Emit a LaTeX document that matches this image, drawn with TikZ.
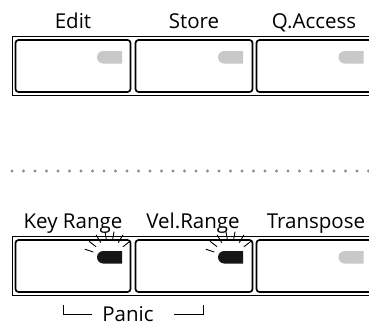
\documentclass[tikz,border=0pt]{standalone}
\usepackage{fontspec}
\setmainfont{Open Sans}
\usetikzlibrary{shapes.misc, calc}
\definecolor{ledoff}{HTML}{C8C8C8}
\definecolor{ledon}{HTML}{161616}
\definecolor{dotgray}{HTML}{8C8C8C}

\begin{document}
\begin{tikzpicture}[
    x=1pt, y=-1pt,
    frame/.style={draw=black, line width=0.8pt},
    key/.style={draw=black, line width=1.7pt, rounded corners=3pt, minimum width=115pt, minimum height=52pt, inner sep=0pt},
    lbl/.style={font=\fontsize{20.5}{20.5}\selectfont, anchor=base, inner sep=0pt},
    led/.style={rounded rectangle, rounded rectangle right arc=none, minimum width=25pt, minimum height=12.5pt, inner sep=0pt, fill=#1},
    ray/.style={line width=0.9pt},
    bracket/.style={line width=0.9pt},
    dots/.style={draw=dotgray, line width=3.2pt, line cap=round, dash pattern=on 0pt off 11.5pt}
]
\useasboundingbox (0,0) rectangle (369,325);
\clip (0,0) rectangle (369,325);

% upper row
\node[lbl] (editlbl) at (73,28) {Edit};
\node[lbl] (storelbl) at (194,28) {Store};
\node[lbl] (qacclbl) at (314,28) {Q.Access};
\draw[frame] (12,36.5) rectangle (390,95.5);
\node[key] (edit) at (73,66) {};
\node[key, minimum width=117pt] (store) at (194,66) {};
\node[key, minimum width=130pt] (qacc) at (321.5,66) {};
\node[led=ledoff] (editled) at (109.5,57.25) {};
\node[led=ledoff] (storeled) at (230.5,57.25) {};
\node[led=ledoff] (qaccled) at (351,57.25) {};

% divider
\coordinate (divL) at (12,171);
\coordinate (divR) at (375,171);
\draw[dots] (divL) -- (divR);

% lower row
\node[lbl] (keylbl) at (73,228) {Key Range};
\node[lbl] (vellbl) at (193,228) {Vel.Range};
\node[lbl] (translbl) at (316,228) {Transpose};
\draw[frame] (12,236.5) rectangle (390,295.5);
\node[key] (keyrng) at (73,266) {};
\node[key, minimum width=117pt] (velrng) at (194,266) {};
\node[key, minimum width=130pt] (transp) at (321.5,266) {};
\node[led=ledon] (keyled) at (109.5,257.25) {};
\node[led=ledon] (velled) at (230.5,257.25) {};
\node[led=ledoff] (transled) at (351,257.25) {};

% lit leds
\foreach \a in {162,142,121,100,80,59,38} {
  \draw[ray] ($(keyled.center)+(\a:17pt)$) -- ($(keyled.center)+(\a:26pt)$);
  \draw[ray] ($(velled.center)+(\a:17pt)$) -- ($(velled.center)+(\a:26pt)$);
}

% panic
\node[lbl, anchor=center, inner sep=0pt] (panic) at (128,314) {Panic};
\coordinate (panicL) at (63,305);
\coordinate (panicR) at (203,305);
\draw[bracket] (panicL) |- ([xshift=-10pt]panic.west);
\draw[bracket] (panicR) |- ([xshift=20pt]panic.east);
\end{tikzpicture}
\end{document}
